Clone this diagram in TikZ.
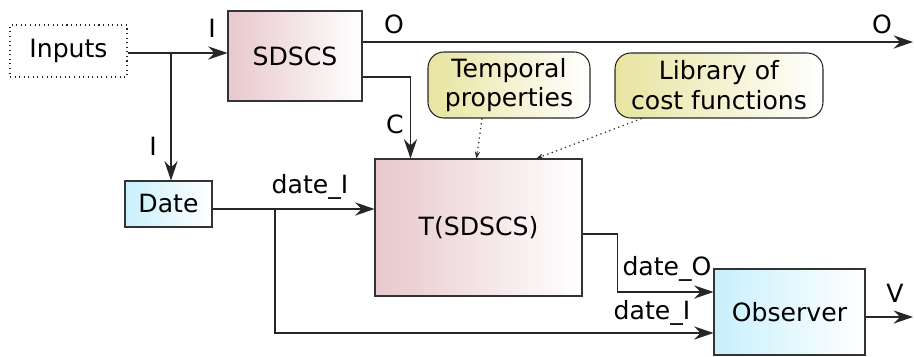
\documentclass[tikz,border=0pt]{standalone}
\usepackage{fontspec}
\setmainfont{DejaVu Sans}
\usetikzlibrary{arrows.meta, positioning}
\definecolor{rosa}{HTML}{E8C8CC}
\definecolor{celeste}{HTML}{C8F0FC}
\definecolor{amarillo}{HTML}{E8E4A0}
\tikzset{
    sistema/.style={draw=black!80, line width=0.6pt, left color=rosa, right color=white},
    reloj/.style={draw=black!80, line width=0.6pt, left color=celeste, right color=white},
    recurso/.style={draw=black!85, line width=0.6pt, rounded corners=9pt, left color=amarillo, right color=white, align=center},
    flujo/.style={draw=black!85, line width=0.9pt, -{Stealth[length=11pt,width=7.5pt]}},
    depende/.style={draw=black!85, line width=0.7pt, dotted, -{Stealth[length=4pt,width=3pt]}},
    etiqueta/.style={anchor=base, inner sep=0pt},
}

\begin{document}
\begin{tikzpicture}[x=0.02cm, y=-0.02cm, font=\fontsize{14.3}{17}\selectfont]
\useasboundingbox (0,0) rectangle (914,356);
% blocks
\node[draw=black!85, line width=0.6pt, dotted, minimum width=2.34cm, minimum height=1.04cm] (inputs) at (68.5,51) {Inputs};
\node[sistema, minimum width=2.68cm, minimum height=1.8cm] (sdscs) at (295,56) {SDSCS};
\node[reloj, minimum width=1.74cm, minimum height=0.92cm] (date) at (168.5,204) {Date};
\node[sistema, minimum width=4.14cm, minimum height=2.74cm] (tsdscs) at (478.5,227.5) {T(SDSCS)};
\node[reloj, minimum width=3.02cm, minimum height=1.72cm] (observer) at (789.5,312) {Observer};
\node[recurso, minimum width=3.24cm, minimum height=1.32cm] (temporal) at (509,85) {Temporal\\ properties};
\node[recurso, minimum width=4.16cm, minimum height=1.3cm] (library) at (719,85.5) {Library of\\cost functions};
% free ends and branch points
\coordinate (salidaO) at (913,42);
\coordinate (salidaV) at (913,317);
\coordinate (rama1) at (171,53);
\coordinate (rama2) at (275,209);
% connectors
\draw[flujo] ([yshift=-0.04cm]inputs.east) -- ([yshift=-0.04cm]inputs.east -| sdscs.west);
\draw[flujo] (rama1) -- (rama1 |- date.north);
\draw[flujo] ([yshift=0.28cm]sdscs.east) -- (salidaO);
\draw[flujo] ([yshift=-0.42cm]sdscs.east) -| ([xshift=0.72cm]tsdscs.north west);
\draw[flujo] ([yshift=-0.1cm]date.east) -- ([yshift=-0.1cm]date.east -| tsdscs.west);
\draw[flujo] (rama2) |- ([yshift=-0.42cm]observer.west);
\draw[flujo] ([yshift=-0.13cm]tsdscs.east) -- ++(35,0) |- ([yshift=0.4cm]observer.west);
\draw[flujo] ([yshift=-0.1cm]observer.east) -- (salidaV);
\draw[depende] ([xshift=-0.54cm]temporal.south) -- ([xshift=2.04cm]tsdscs.north west);
\draw[depende] ([xshift=0.54cm]library.south west) -- ([xshift=3.24cm]tsdscs.north west);
% labels
\node[etiqueta] (lI1) at (212,37) {I};
\node[etiqueta] (lI2) at (153,155) {I};
\node[etiqueta] (lO1) at (394,33) {O};
\node[etiqueta] (lO2) at (882,33) {O};
\node[etiqueta] (lC) at (395,133) {C};
\node[etiqueta] (ldateI1) at (310,193) {date\_I};
\node[etiqueta] (ldateO) at (667,275) {date\_O};
\node[etiqueta] (ldateI2) at (652,319) {date\_I};
\node[etiqueta] (lV) at (895,302) {V};
\end{tikzpicture}
\end{document}
